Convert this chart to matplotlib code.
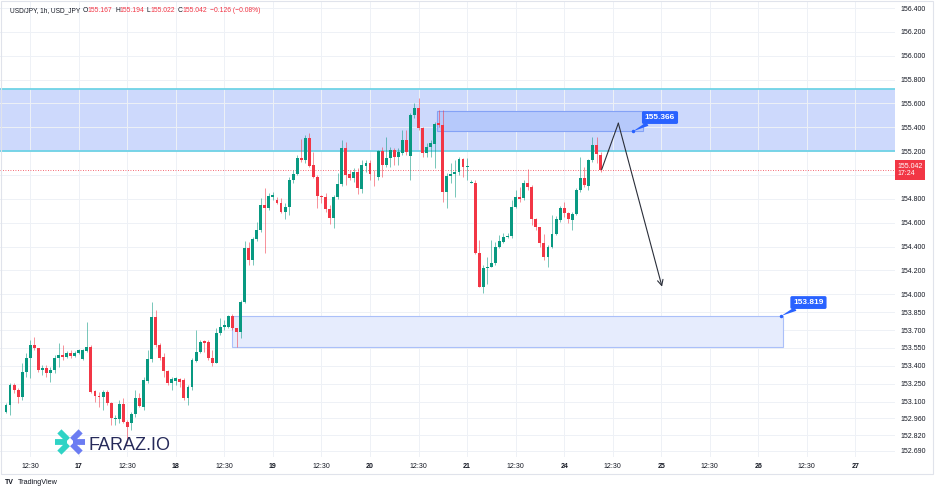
import numpy as np
import matplotlib.pyplot as plt
from matplotlib.patches import Rectangle
from matplotlib.transforms import blended_transform_factory

plt.rcParams['font.family'] = ['Liberation Sans', 'DejaVu Sans']

# ---- hourly USD/JPY candles ----
opens = [
    153.016, 153.072, 153.240, 153.198, 153.136, 153.351, 153.463, 153.575, 153.547, 153.365,
    153.379, 153.337, 153.365, 153.469, 153.491, 153.472, 153.505, 153.483, 153.511, 153.458,
    153.527, 153.561, 153.189, 153.148, 153.142, 153.184, 153.086, 152.952, 152.958, 153.080,
    152.932, 152.924, 152.997, 153.128, 153.058, 153.276, 153.455, 153.807, 153.575, 153.477,
    153.357, 153.254, 153.276, 153.287, 153.282, 153.134, 153.226, 153.444, 153.519, 153.611,
    153.603, 153.463, 153.427, 153.673, 153.723, 153.729, 153.821, 153.715, 153.687, 153.938,
    154.386, 154.288, 154.461, 154.539, 154.749, 154.726, 154.819, 154.791, 154.768, 154.693,
    154.735, 154.958, 155.009, 155.146, 155.126, 155.313, 155.084, 154.986, 154.824, 154.819,
    154.712, 154.637, 154.813, 154.922, 155.224, 155.009, 154.972, 155.028, 154.880, 155.076,
    155.098, 154.986, 154.981, 155.201, 155.084, 155.146, 155.210, 155.154, 155.187, 155.294,
    155.159, 155.503, 155.559, 155.391, 155.182, 155.238, 155.260, 155.433, 155.419, 154.861,
    154.992, 155.009, 155.028, 155.132, 155.070, 154.936, 154.936, 154.349, 154.064, 154.218,
    154.232, 154.265, 154.400, 154.441, 154.483, 154.489, 154.735, 154.819, 154.805, 154.936,
    154.902, 154.629, 154.562, 154.433, 154.310, 154.400, 154.506, 154.623, 154.721, 154.679,
    154.623, 154.673, 154.875, 154.978, 154.908, 155.126, 155.252, 155.167]

highs = [
    153.086, 153.254, 153.254, 153.212, 153.421, 153.505, 153.617, 153.645, 153.547, 153.407,
    153.407, 153.393, 153.491, 153.589, 153.575, 153.525, 153.533, 153.525, 153.539, 153.539,
    153.771, 153.575, 153.198, 153.184, 153.198, 153.198, 153.100, 152.988, 153.114, 153.128,
    152.946, 153.016, 153.198, 153.170, 153.310, 153.533, 153.938, 153.868, 153.589, 153.505,
    153.365, 153.310, 153.310, 153.296, 153.296, 153.240, 153.463, 153.701, 153.617, 153.617,
    153.617, 153.533, 153.715, 153.798, 153.785, 153.826, 153.835, 153.715, 153.952, 154.450,
    154.441, 154.483, 154.609, 154.805, 154.888, 154.847, 154.861, 154.813, 154.805, 154.763,
    154.986, 155.042, 155.168, 155.299, 155.335, 155.349, 155.196, 155.000, 154.833, 154.847,
    154.749, 154.833, 155.014, 155.294, 155.280, 155.042, 155.056, 155.056, 155.126, 155.126,
    155.126, 155.042, 155.210, 155.238, 155.322, 155.238, 155.224, 155.224, 155.377, 155.377,
    155.517, 155.601, 155.643, 155.405, 155.266, 155.294, 155.447, 155.545, 155.545, 155.014,
    155.098, 155.126, 155.154, 155.140, 155.140, 154.958, 154.958, 154.455, 154.246, 154.316,
    154.455, 154.441, 154.497, 154.511, 154.511, 154.791, 154.875, 154.902, 154.958, 155.048,
    154.917, 154.637, 154.567, 154.506, 154.414, 154.665, 154.657, 154.740, 154.777, 154.693,
    154.693, 154.888, 155.154, 155.070, 155.132, 155.322, 155.322, 155.194]

lows = [
    153.002, 152.988, 153.170, 153.086, 153.114, 153.310, 153.296, 153.533, 153.351, 153.324,
    153.310, 153.268, 153.337, 153.393, 153.449, 153.463, 153.463, 153.477, 153.500, 153.449,
    153.519, 153.170, 153.100, 153.058, 153.030, 153.072, 152.904, 152.904, 152.918, 152.918,
    152.751, 152.863, 152.974, 153.058, 153.030, 153.254, 153.435, 153.561, 153.449, 153.310,
    153.240, 153.198, 153.240, 153.226, 153.114, 153.072, 153.198, 153.435, 153.505, 153.519,
    153.449, 153.399, 153.421, 153.659, 153.701, 153.715, 153.701, 153.561, 153.631, 153.930,
    154.246, 154.246, 154.444, 154.525, 154.344, 154.707, 154.791, 154.757, 154.679, 154.629,
    154.665, 154.930, 155.000, 155.112, 155.098, 155.064, 154.972, 154.721, 154.768, 154.693,
    154.590, 154.553, 154.802, 154.908, 154.917, 154.958, 154.944, 154.841, 154.852, 155.028,
    154.958, 154.908, 154.958, 154.986, 155.070, 155.064, 155.084, 155.084, 155.168, 155.168,
    154.958, 155.475, 155.377, 155.154, 155.154, 155.154, 155.056, 155.405, 154.777, 154.726,
    154.930, 154.819, 155.000, 154.986, 154.958, 154.930, 154.338, 154.059, 154.008, 154.087,
    154.232, 154.246, 154.386, 154.428, 154.469, 154.469, 154.726, 154.777, 154.791, 154.875,
    154.581, 154.539, 154.400, 154.288, 154.232, 154.386, 154.497, 154.609, 154.651, 154.595,
    154.539, 154.665, 154.861, 154.902, 154.875, 155.112, 155.098, 155.022]

closes = [
    153.072, 153.240, 153.198, 153.136, 153.351, 153.463, 153.575, 153.547, 153.365, 153.379,
    153.337, 153.365, 153.469, 153.491, 153.472, 153.505, 153.483, 153.511, 153.533, 153.533,
    153.561, 153.184, 153.148, 153.136, 153.184, 153.086, 152.960, 152.966, 153.080, 152.932,
    152.890, 152.997, 153.128, 153.064, 153.282, 153.455, 153.807, 153.575, 153.463, 153.357,
    153.254, 153.287, 153.296, 153.268, 153.128, 153.226, 153.449, 153.519, 153.603, 153.589,
    153.463, 153.427, 153.673, 153.729, 153.743, 153.818, 153.715, 153.687, 153.938, 154.386,
    154.288, 154.461, 154.539, 154.749, 154.726, 154.824, 154.833, 154.768, 154.693, 154.735,
    154.958, 155.009, 155.146, 155.126, 155.313, 155.076, 154.981, 154.824, 154.813, 154.712,
    154.637, 154.819, 154.922, 155.224, 155.000, 154.972, 155.028, 154.888, 155.084, 155.098,
    155.009, 154.981, 155.201, 155.084, 155.146, 155.210, 155.148, 155.196, 155.294, 155.196,
    155.503, 155.559, 155.391, 155.182, 155.238, 155.266, 155.425, 155.419, 154.861, 154.992,
    155.009, 155.028, 155.132, 155.070, 155.078, 154.944, 154.344, 154.064, 154.218, 154.232,
    154.265, 154.400, 154.447, 154.483, 154.489, 154.735, 154.819, 154.797, 154.936, 154.902,
    154.629, 154.562, 154.433, 154.310, 154.400, 154.506, 154.629, 154.721, 154.679, 154.629,
    154.673, 154.874, 154.978, 154.917, 155.126, 155.252, 155.176, 155.042]

# time axis labels (candle index of each label)
xtick_pos = [6, 18, 30, 42, 54, 66, 78, 90, 102, 114, 126, 138, 150, 162, 174, 186, 198, 210]
xtick_labels = ['12:30', '17', '12:30', '18', '12:30', '19', '12:30', '20', '12:30', '21',
                '12:30', '24', '12:30', '25', '12:30', '26', '12:30', '27']

# price axis labels
ytick_vals = [156.4, 156.2, 156.0, 155.8, 155.6, 155.4, 155.2, 155.0, 154.8, 154.6, 154.4,
              154.2, 154.0, 153.85, 153.7, 153.55, 153.4, 153.25, 153.1, 152.96, 152.82, 152.69]

# drawings
zone_low, zone_high = 155.204, 155.721
upper_box_x = [106.6, 157.4]
upper_box_y = [155.366, 155.540]
lower_box_x = [55.9, 192.1]
lower_box_y = [153.558, 153.819]
path_x = [147.3, 151.4, 162.2]
path_y = [155.048, 155.434, 154.064]
last_price = 155.042

GREEN = '#089981'
RED = '#f23645'
BLUE = '#2962ff'
DARK = '#131722'

opens, highs, lows, closes = map(np.array, (opens, highs, lows, closes))
idx = np.arange(len(closes))

W, H = 936, 492
fig = plt.figure(figsize=(W / 100, H / 100), dpi=100)
fig.patch.set_facecolor('white')
ax = fig.add_axes([0, 35 / H, 895 / W, 456 / H])
ax.set_xlim(-1.48, 219.8)
ax.set_ylim(152.636, 156.459)
for s in ax.spines.values():
    s.set_visible(False)

ax.grid(True, color='#eef1f6', lw=0.7, zorder=0)

# zones
ax.add_patch(Rectangle((-5, zone_low), 240, zone_high - zone_low,
                       facecolor='#cbd7fc', edgecolor='none', alpha=0.95, zorder=1))
ax.axhline(zone_low, color='#6fd3e6', lw=1.3, zorder=2)
ax.axhline(zone_high, color='#6fd3e6', lw=1.3, zorder=2)
ax.add_patch(Rectangle((upper_box_x[0], upper_box_y[0]), upper_box_x[1] - upper_box_x[0],
                       upper_box_y[1] - upper_box_y[0],
                       facecolor='#b6c9fb', edgecolor='#84a2f6', lw=0.8, zorder=2))
ax.add_patch(Rectangle((lower_box_x[0], lower_box_y[0]), lower_box_x[1] - lower_box_x[0],
                       lower_box_y[1] - lower_box_y[0],
                       facecolor='#e6ecfd', edgecolor='#abc0f9', lw=0.8, zorder=2))

# last price line
ax.axhline(last_price, color=RED, lw=0.6, ls=(0, (1, 2)), zorder=2)

# candles
up = closes >= opens
colors = np.where(up, GREEN, RED)
ax.vlines(idx, lows, highs, colors=colors, lw=0.7, alpha=0.55, zorder=3)
body_lo = np.minimum(opens, closes)
body_h = np.maximum(np.abs(closes - opens), 0.004)
ax.bar(idx, body_h, bottom=body_lo, width=0.72, color=colors, linewidth=0, zorder=4)

# projected path
ax.plot(path_x[:2], path_y[:2], color='#2a2e39', lw=0.8, zorder=5)
ax.annotate('', xy=(path_x[2], path_y[2]), xytext=(path_x[1], path_y[1]),
            arrowprops=dict(arrowstyle='->,head_length=0.4,head_width=0.2',
                            color='#2a2e39', lw=0.8, shrinkA=0, shrinkB=0), zorder=5)

# price callouts
for anchor, label_pos, text in [((155.0, upper_box_y[0]), (161.7, 155.482), '155.366'),
                                ((lower_box_x[1] - 0.4, lower_box_y[1]), (198.4, 153.931), '153.819')]:
    ax.annotate(text, xy=anchor, xytext=label_pos, ha='center', va='center',
                fontsize=6, fontweight='bold', color='white', zorder=6,
                bbox=dict(boxstyle='round,pad=0.35,rounding_size=0.2', fc=BLUE, ec='none'),
                arrowprops=dict(arrowstyle='wedge,tail_width=0.5', fc=BLUE, ec='none',
                                shrinkA=0, shrinkB=0))
    ax.plot(*anchor, 'o', color=BLUE, ms=1.5, zorder=6)

# axes ticks
ax.yaxis.tick_right()
ax.set_yticks(ytick_vals)
ax.set_yticklabels(['' if v == 155.0 else f'{v:.3f}' for v in ytick_vals])
ax.tick_params(axis='y', length=0, pad=4, labelsize=5, labelcolor=DARK)
ax.set_xticks(xtick_pos)
ax.set_xticklabels(xtick_labels)
ax.tick_params(axis='x', length=0, pad=4.5, labelsize=5, labelcolor=DARK)
for t in ax.get_xticklabels():
    if ':' not in t.get_text():
        t.set_fontweight('bold')

# last price tag on the axis
tr = blended_transform_factory(ax.transAxes, ax.transData)
ax.text(1.003, last_price, '155.042\n17:24', transform=tr, ha='left', va='center',
        fontsize=5, color='white', linespacing=1.1, clip_on=False, zorder=7,
        bbox=dict(boxstyle='square,pad=0.35', fc=RED, ec='none'))

# header
def px(x, y):
    return x / W, 1 - y / H

fig.text(*px(10, 11), 'USD/JPY, 1h, USD_JPY', fontsize=4.7, color=DARK, va='center')
for x, lab, col in [(83, 'O', DARK), (87, '155.167', RED), (115, 'H', DARK), (119, '155.194', RED),
                    (146.5, 'L', DARK), (150, '155.022', RED), (178, 'C', DARK), (182, '155.042', RED),
                    (210.5, '\u22120.126 (\u22120.08%)', RED)]:
    fig.text(*px(x, 11), lab, fontsize=4.9, color=col, va='center')

# overlay for frame, watermark and footer
ov = fig.add_axes([0, 0, 1, 1], facecolor='none')
ov.set_xlim(0, W)
ov.set_ylim(H, 0)
ov.axis('off')
ov.add_patch(Rectangle((1, 1), 932, 473, fill=False, ec='#e0e3eb', lw=0.8))

teal, violet = '#2fd3c5', '#6b7cf2'
cx, cy, r = 70, 442, 15
for ang, col in [(180, teal), (135, teal), (225, teal), (0, violet), (45, violet), (315, violet)]:
    a = np.deg2rad(ang)
    ov.plot([cx + 3 * np.cos(a), cx + r * np.cos(a)], [cy - 3 * np.sin(a), cy - r * np.sin(a)],
            color=col, lw=4.2, solid_capstyle='butt')
ov.text(89, 445, 'FARAZ.IO', fontsize=13, color='#262a5a', va='center', ha='left')

ov.text(5, 483, 'TV', fontsize=5, fontweight='heavy', color=DARK, va='center')
ov.text(18, 483, 'TradingView', fontsize=5.2, color=DARK, va='center')

fig.savefig('out.png', dpi=100)
